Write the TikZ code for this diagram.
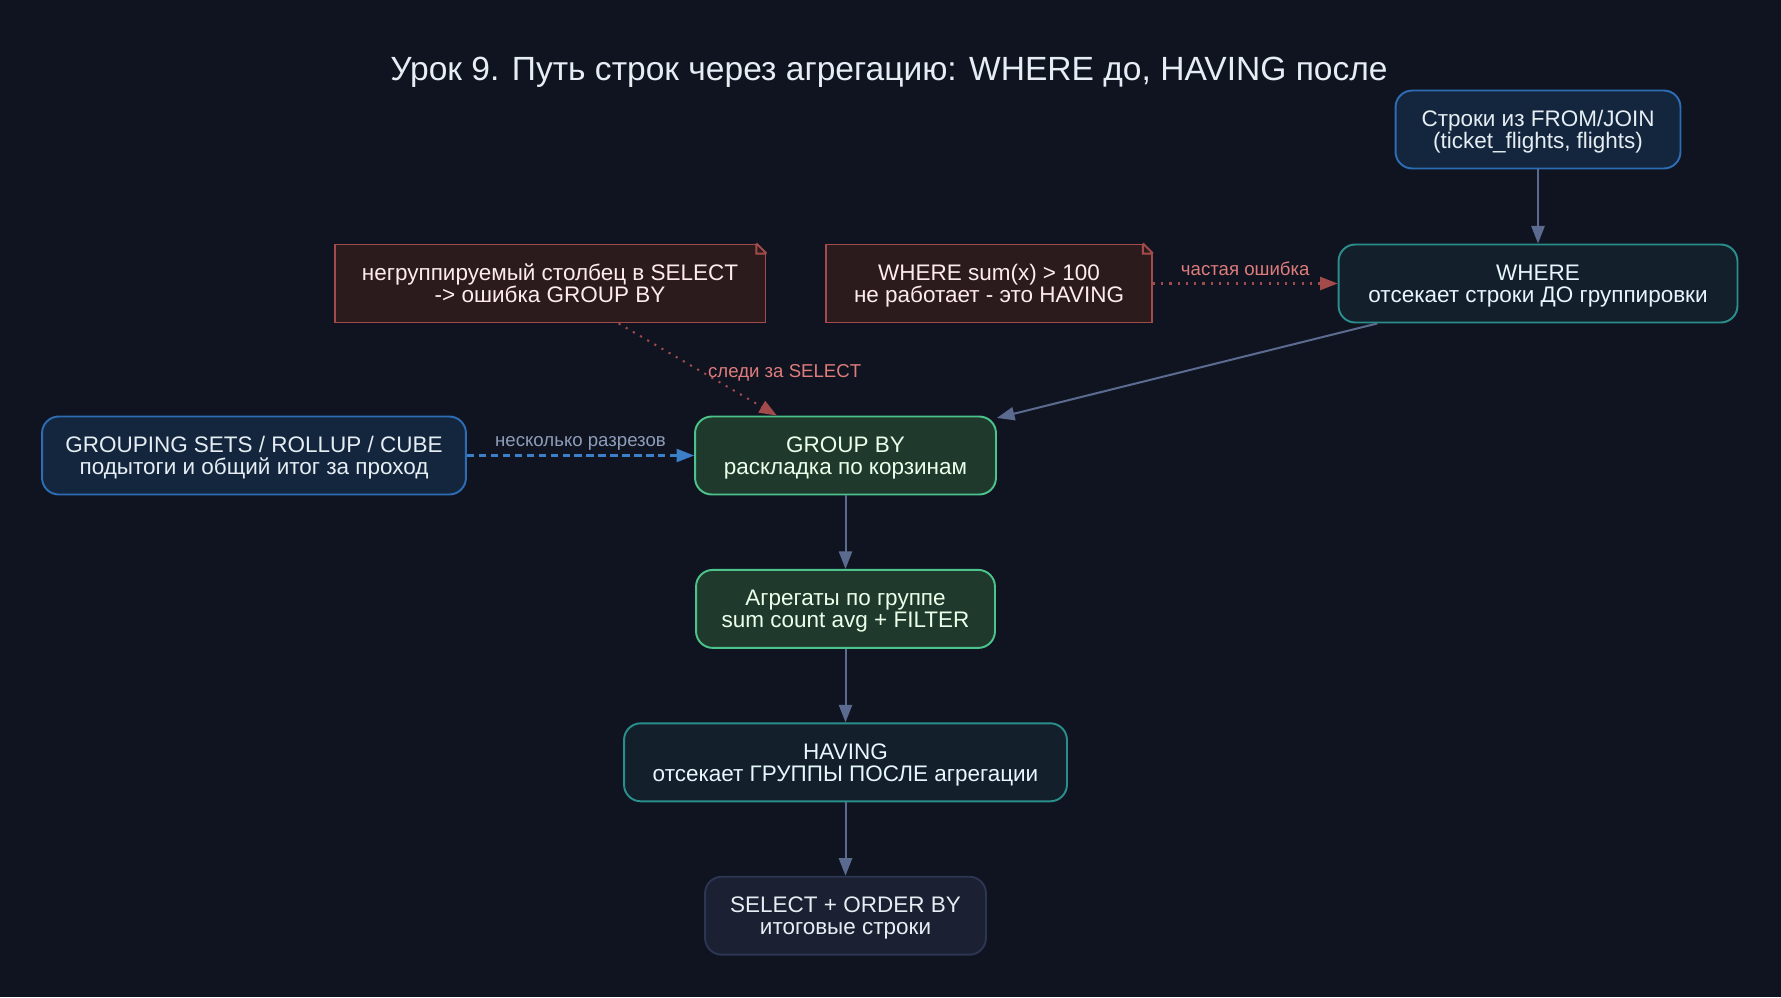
\documentclass[tikz,border=0pt]{standalone}
\usepackage{fontspec}
\setmainfont{Liberation Sans}
\usepackage{xcolor}
\usetikzlibrary{arrows.meta,positioning}

\definecolor{bgc}{HTML}{0F1420}
\definecolor{titlec}{HTML}{E6EDF3}
\definecolor{bluefill}{HTML}{13263E}
\definecolor{blueline}{HTML}{2E6DB4}
\definecolor{tealfill}{HTML}{131F2A}
\definecolor{tealline}{HTML}{2A8F8C}
\definecolor{greenfill}{HTML}{1F3A2C}
\definecolor{greenline}{HTML}{4CC38A}
\definecolor{notefill}{HTML}{2C1B1D}
\definecolor{noteline}{HTML}{A34B4B}
\definecolor{selfill}{HTML}{1B2133}
\definecolor{selline}{HTML}{2C3652}
\definecolor{edgec}{HTML}{5B6B8F}
\definecolor{dashc}{HTML}{3C7FC9}
\definecolor{redlbl}{HTML}{E07C7C}
\definecolor{graylbl}{HTML}{8E9DBA}

\begin{document}
\begin{tikzpicture}[x=0.02cm, y=-0.02cm, >={Triangle[length=10pt,width=7.5pt]},
  node distance=1.47cm,
  every node/.style={align=center,font=\fontsize{12.8}{12.4}\selectfont},
  txt/.style={text depth=-1pt},
  box/.style={txt,draw,rounded corners=9.5pt,line width=1.1pt,minimum height=1.56cm,inner sep=0pt},
  srcbox/.style={box,fill=bluefill,draw=blueline,text=titlec},
  cutbox/.style={box,fill=tealfill,draw=tealline,text=cyan!10!white},
  grpbox/.style={box,fill=greenfill,draw=greenline,text=green!8!white},
  outbox/.style={box,fill=selfill,draw=selline,text=titlec},
  notebox/.style={txt,draw=noteline,fill=notefill,line width=1.1pt,minimum height=1.56cm,inner sep=0pt,text=red!8!white},
  flow/.style={->,draw=edgec,line width=1.15pt},
  hint/.style={->,draw=noteline,line width=1.15pt,dash pattern=on 1.2pt off 3.5pt},
  lbl/.style={font=\fontsize{10.6}{12}\selectfont}]
\fill[bgc] (0,0) rectangle (1781,997);
\useasboundingbox (0,0) rectangle (1781,997);

\node (title) [text=titlec,font=\fontsize{19.1}{22}\selectfont] at (889,72) {Урок 9. Путь строк через агрегацию: WHERE до, HAVING после};

\node (src) [srcbox,minimum width=5.7cm] at (1538,129.5) {Строки из FROM/JOIN\\(ticket\_flights, flights)};
\node (where) [cutbox,minimum width=7.98cm] at (1538,283.5) {WHERE\\отсекает строки ДО группировки};
\node (nsel) [notebox,minimum width=8.62cm] at (550,283.5) {негруппируемый столбец в SELECT\\-> ошибка GROUP BY};
\node (nwhere) [notebox,minimum width=6.52cm] at (989,283.5) {WHERE sum(x) > 100\\не работает - это HAVING};
\node (gsets) [srcbox,minimum width=8.48cm] at (254,455.5) {GROUPING SETS / ROLLUP / CUBE\\подытоги и общий итог за проход};
\node (grp) [grpbox,minimum width=6.02cm] at (845.5,455.5) {GROUP BY\\раскладка по корзинам};
\node (agg) [grpbox,minimum width=5.98cm,below=of grp] {Агрегаты по группе\\sum count avg + FILTER};
\node (having) [cutbox,minimum width=8.86cm,below=of agg] {HAVING\\отсекает ГРУППЫ ПОСЛЕ агрегации};
\node (sel) [outbox,minimum width=5.62cm,below=of having] {SELECT + ORDER BY\\итоговые строки};

% folded corners of the notes
\foreach \n in {nsel,nwhere} {
  \fill[bgc] ([shift={(-11.5,-1.5)}]\n.north east) -- ([shift={(1.5,-1.5)}]\n.north east) -- ([shift={(1.5,11.5)}]\n.north east) -- cycle;
  \draw[noteline,line width=1.1pt,line join=miter] ([shift={(-10,0)}]\n.north east) -- ([shift={(0,10)}]\n.north east)
    ([shift={(-10,0)}]\n.north east) |- ([shift={(0,10)}]\n.north east);
}

\draw[flow] (src) -- (where);
\draw[flow] (where) -- (grp);
\draw[flow] (grp) -- (agg);
\draw[flow] (agg) -- (having);
\draw[flow] (having) -- (sel);
\draw[hint] (nsel) -- node[lbl,right=2pt,yshift=-2pt,text=redlbl]{следи за SELECT} (grp);
\draw[hint] (nwhere) -- node[lbl,above=0.5pt,text=redlbl]{частая ошибка} (where);
\draw[->,draw=dashc,line width=1.15pt,dash pattern=on 4.2pt off 2.6pt] (gsets) -- node[lbl,above=-1pt,text=graylbl]{несколько разрезов} (grp);
\end{tikzpicture}
\end{document}
